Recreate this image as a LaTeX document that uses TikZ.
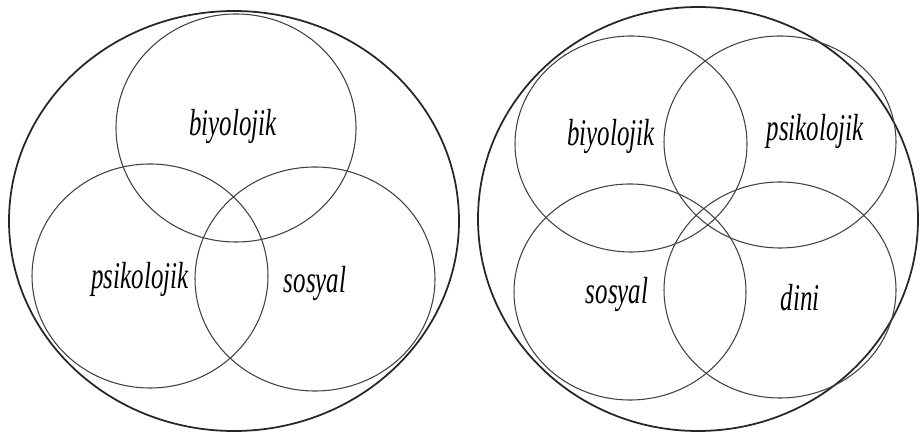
\documentclass[tikz,border=0pt]{standalone}
\usepackage{fontspec}
\newfontfamily\timesfont{Liberation Serif}
\usepackage{tikz}
\usetikzlibrary{positioning}

\begin{document}
\begin{tikzpicture}[
    x=0.02cm, y=-0.02cm,
    outer/.style={draw=black!85, line width=1pt},
    inner/.style={draw=black!75, line width=0.6pt},
    lbl/.style={anchor=base, inner sep=0pt, font=\timesfont\itshape\fontsize{21.5}{24}\selectfont}
]
\useasboundingbox (0,0) rectangle (922,438);

% Left diagram: three aspects
\draw [outer] (234,221) ellipse [x radius=225, y radius=210];
\draw [inner] (236,128) ellipse [x radius=120, y radius=114];
\draw [inner] (150,276) ellipse [x radius=118, y radius=112];
\draw [inner] (315,279) ellipse [x radius=120, y radius=112];

\node [lbl] (lbio) at (233,136) {\scalebox{0.66}[1]{biyolojik}};
\node [lbl] (lpsi) at (140,289) {\scalebox{0.66}[1]{psikolojik}};
\node [lbl] (lsos) at (315,293) {\scalebox{0.66}[1]{sosyal}};

% Right diagram: four aspects
\draw [outer] (698,219) ellipse [x radius=220, y radius=212];
\draw [inner] (631,144) ellipse [x radius=116, y radius=108];
\draw [inner] (780,142) ellipse [x radius=116, y radius=106];
\draw [inner] (630,292) ellipse [x radius=116, y radius=108];
\draw [inner] (780,290) ellipse [x radius=116, y radius=108];

\node [lbl] (rbio) at (611,146) {\scalebox{0.66}[1]{biyolojik}};
\node [lbl] (rpsi) at (815,141) {\scalebox{0.66}[1]{psikolojik}};
\node [lbl] (rsos) at (617,304) {\scalebox{0.66}[1]{sosyal}};
\node [lbl] (rdin) at (800,311) {\scalebox{0.66}[1]{dini}};

\end{tikzpicture}
\end{document}
